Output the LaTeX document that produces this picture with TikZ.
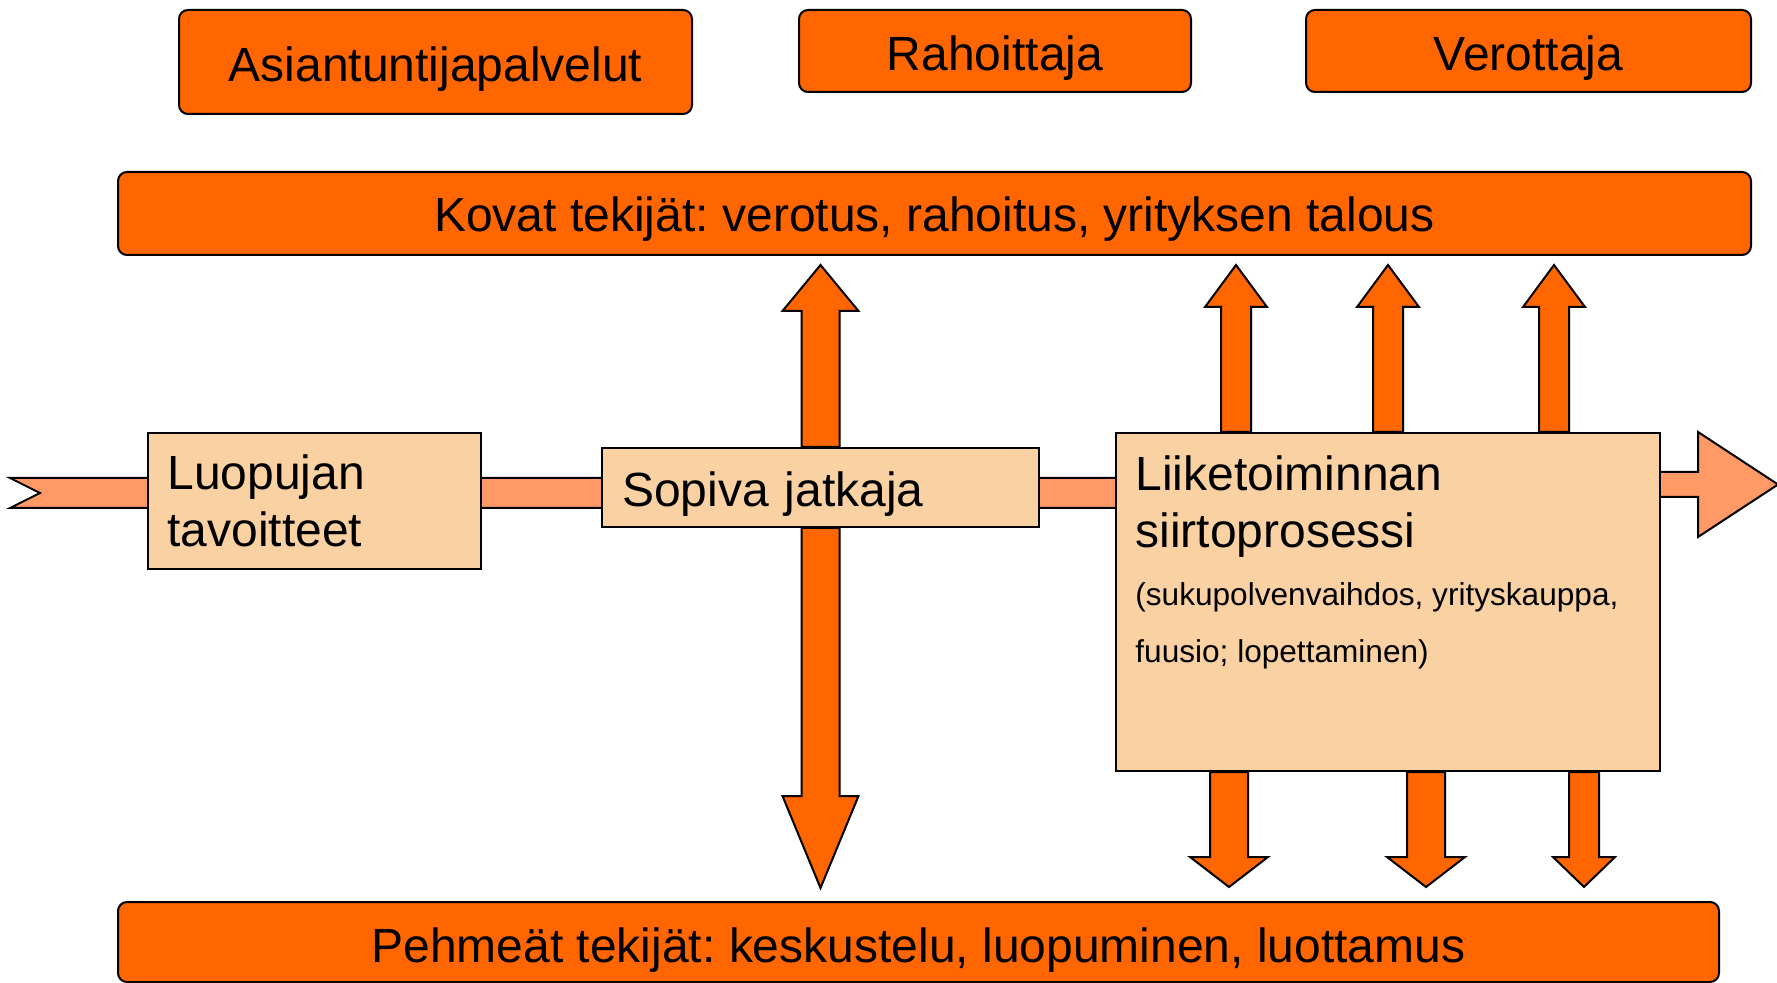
\documentclass[tikz,border=0pt]{standalone}
\usepackage{fontspec}
\setmainfont{Liberation Sans}
\usepackage{xcolor}
\usetikzlibrary{calc}
\definecolor{dorange}{HTML}{FF6600}
\definecolor{peach}{HTML}{F9D1A3}
\definecolor{bandcol}{HTML}{FF9966}
\pgfdeclarelayer{background}
\pgfsetlayers{background,main}
\frenchspacing

\begin{document}
\begin{tikzpicture}[x=0.5pt, y=-0.5pt,
  bigtxt/.style={font=\fontsize{24}{28.5}\selectfont},
  smalltxt/.style={font=\fontsize{15.8}{28.5}\selectfont},
  bar/.style={draw, line width=1pt, fill=dorange, rounded corners=4.5pt, inner sep=0,
    text height=20pt, text depth=0pt, bigtxt},
  pbox/.style={draw, line width=1pt, fill=peach, inner sep=0},
  ptext/.style={inner sep=0, align=left, anchor=north west},
  blk/.style={draw, line width=1pt, fill=dorange},
  bandst/.style={draw, line width=1pt, fill=bandcol}]
  \useasboundingbox (0,0) rectangle (1777,983);

  % top row
  \node[bar, minimum width=256.5pt, minimum height=52pt] (asiant) at (435.5,62) {Asiantuntijapalvelut};
  \node[bar, minimum width=196pt, minimum height=41pt] (rahoit) at (995,51) {Rahoittaja};
  \node[bar, minimum width=222.5pt, minimum height=41pt] (verott) at (1528.5,51) {Verottaja};
  \node[bar, minimum width=816.5pt, minimum height=41.5pt, text height=18.5pt] (kovat) at (934.5,213.5)
    {Kovat tekijät: verotus, rahoitus, yrityksen talous};
  \node[bar, minimum width=800.5pt, minimum height=40pt] (pehmeat) at (918.5,942)
    {Pehmeät tekijät: keskustelu, luopuminen, luottamus};

  % process boxes
  \node[pbox, minimum width=166.5pt, minimum height=68pt] (luopuja) at (314.5,501) {};
  \node[pbox, minimum width=218.5pt, minimum height=39.5pt, text width=198.5pt, align=left,
    text height=19.5pt, text depth=0pt, bigtxt] (sopiva) at (820.5,487.5) {Sopiva jatkaja};
  \node[pbox, minimum width=272pt, minimum height=169pt] (liike) at (1388,602) {};

  \node[ptext, bigtxt] (luopujaT) at ($(luopuja.north west)+(20,22.5)$) {Luopujan\\tavoitteet};
  \node[ptext, bigtxt] (liikeT) at ($(liike.north west)+(20,23.5)$) {Liiketoiminnan\\siirtoprosessi};
  \node[ptext, smalltxt] (liikeD) at ($(liike.north west)+(20,150)$)
    {(sukupolvenvaihdos, yrityskauppa,\\fuusio; lopettaminen)};

  % main flow band
  \coordinate (tail) at (10,493);
  \begin{pgfonlayer}{background}
    \draw[bandst] ($(tail)+(0,-15)$) -- ($(liike.west |- tail)+(10,-15)$) -- ++(0,30)
      -- ($(tail)+(0,15)$) -- ++(30,-15) -- cycle;
    \draw[bandst] ($(liike.north east)+(-5,40)$) -- ++(42,0) -- ++(0,-40) -- ++(80,52.5)
      -- ++(-80,52.5) -- ++(0,-40) -- ++(-42,0) -- cycle;
  \end{pgfonlayer}

  % double arrow through the successor
  \draw[blk] ($(sopiva.north)+(-19,0)$) -- ++(0,-136) -- ++(-19,0) -- ++(38,-46)
    -- ++(38,46) -- ++(-19,0) -- ++(0,136) -- cycle;
  \draw[blk] ($(sopiva.south)+(-19,0)$) -- ++(0,268) -- ++(-19,0) -- ++(38,92)
    -- ++(38,-92) -- ++(-19,0) -- ++(0,-268) -- cycle;

  % arrows from the transfer process
  \foreach \dx in {-152, 0, 166}
    \draw[blk] ($(liike.north)+(\dx,0)+(-15,0)$) -- ++(0,-125) -- ++(-16,0) -- ++(31,-42)
      -- ++(31,42) -- ++(-16,0) -- ++(0,125) -- cycle;
  \foreach \dx/\sw/\hw in {-159/19/39, 38/19/39, 196/15/31}
    \draw[blk] ($(liike.south)+(\dx,0)+(-\sw,0)$) -- ++(0,85) -- ++(\sw-\hw,0) -- ++(\hw,30)
      -- ++(\hw,-30) -- ++(\sw-\hw,0) -- ++(0,-85) -- cycle;
\end{tikzpicture}
\end{document}
